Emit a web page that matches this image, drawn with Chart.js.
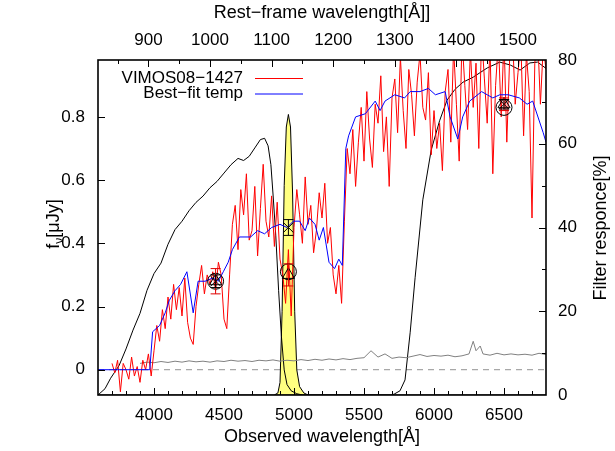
<!DOCTYPE html>
<html><head><meta charset="utf-8">
<script src="https://cdn.jsdelivr.net/npm/chart.js@4/dist/chart.umd.min.js"></script>
<style>html,body{margin:0;padding:0;background:#fff}#wrap{width:615px;height:451px;position:relative}</style>
</head><body><div id="wrap"><canvas id="c"></canvas></div>
<script>
const FONT = '"Liberation Sans", Arial, Helvetica, sans-serif';
const onePlusZ = 4.4;

const obsTicks = [4000,4500,5000,5500,6000,6500];
const restTicks = [900,1000,1100,1200,1300,1400,1500];
const fluxTicks = [0,0.2,0.4,0.6,0.8];
const respTicks = [0,20,40,60,80];

const specLabel = 'VIMOS08\u22121427';
const tempLabel = 'Best\u2212fit temp';

const redWave = [3700,3720,3740,3760,3780,3800,3820,3840,3860,3880,3900,3920,3940,3960,3980,
4000,4020,4040,4060,4080,4100,4120,4140,4160,4180,4200,4220,4240,4260,4280,4300,4320,4340,4360,4380,
4400,4420,4440,4460,4480,4500,4520,4540,4560,4580,4600,4620,4640,4660,4680,4700,4720,4740,4760,4780,
4800,4820,4840,4860,4880,4900,4920,4940,4960,4980,5000,5020,5040,5060,5080,5100,5120,5140,5160,5180,
5200,5220,5240,5260,5280,5300,5320,5340,5360,5380,5400,5420,5440,5460,5480,5500,5520,5540,5560,5580,
5600,5620,5640,5660,5680,5700,5720,5740,5760,5780,5800,5820,5840,5860,5880,5900,5920,5940,5960,5980,
6000,6020,6040,6060,6080,6100,6120,6140,6160,6180,6200,6220,6240,6260,6280,6300,6320,6340,6360,6380,
6400,6420,6440,6460,6480,6500,6520,6540,6560,6580,6600,6620,6640,6660,6680,6700,6720,6740,6760,6780,6800];
const redFlux = [0.02,-0.01,0.03,-0.07,0.02,0.00,-0.03,0.04,-0.02,0.01,-0.04,0.03,0.00,0.05,-0.02,
0.06,0.14,0.09,0.19,0.13,0.23,0.16,0.27,0.19,0.26,0.17,0.29,0.15,0.10,0.08,0.20,0.27,0.33,0.24,0.30,
0.27,0.31,0.25,0.34,0.30,0.16,0.13,0.30,0.46,0.52,0.38,0.57,0.49,0.62,0.41,0.44,0.58,0.36,0.51,0.65,
0.47,0.42,0.55,0.39,0.53,0.35,0.30,0.21,0.38,0.17,0.45,0.57,0.49,0.40,0.61,0.46,0.52,0.37,0.44,0.56,
0.48,0.59,0.40,0.45,0.30,0.24,0.33,0.21,0.47,0.70,0.62,0.76,0.58,0.72,0.83,0.66,0.88,0.73,0.64,0.84,
0.78,0.93,0.69,0.80,0.58,0.86,0.92,0.75,0.99,0.82,0.70,0.95,0.87,0.74,0.91,1.00,0.83,0.79,0.94,0.68,
0.82,0.70,0.78,0.63,0.88,0.95,0.72,1.02,0.84,0.66,1.05,0.90,0.76,1.01,0.83,0.97,0.70,1.06,0.92,0.78,
1.03,0.62,0.90,1.04,0.80,1.05,0.72,0.98,1.07,0.84,0.94,1.04,0.74,1.00,0.88,0.48,0.97,1.06,0.84,1.02,0.95];

const blueWave = [3600,3970,3990,4040,4080,4110,4150,4190,4235,4280,4315,4365,4420,4460,4495,4530,4560,4610,4690,4740,
4790,4840,4900,4950,4995,5040,5080,5110,5150,5180,5210,5250,5290,5320,5345,5370,5390,5440,5510,5580,
5615,5650,5720,5790,5830,5900,5960,6010,6080,6115,6170,6205,6255,6340,6380,6420,6470,6530,6610,6665,6705,6780,6800];
const blueFlux = [0,0,0.12,0.14,0.18,0.22,0.25,0.27,0.31,0.18,0.28,0.28,0.29,0.28,0.31,0.34,0.38,0.42,0.42,0.44,
0.43,0.45,0.46,0.45,0.47,0.47,0.44,0.48,0.46,0.41,0.45,0.34,0.32,0.35,0.33,0.70,0.74,0.80,0.81,0.85,
0.82,0.85,0.87,0.86,0.88,0.88,0.89,0.87,0.88,0.80,0.73,0.80,0.85,0.88,0.87,0.86,0.87,0.87,0.86,0.84,0.85,0.75,0.72];

const noiseWave = [3900,3950,4000,4050,4100,4150,4200,4250,4300,4350,4400,4450,4500,4550,4600,4650,4700,4750,4800,4850,
4900,4950,5000,5050,5100,5150,5200,5250,5300,5350,5400,5450,5500,5550,5600,5650,5700,5750,5800,5850,
5900,5950,6000,6050,6100,6150,6200,6250,6280,6300,6330,6350,6400,6450,6500,6550,6600,6650,6700,6750,6800];
const noiseFlux = [0.020,0.024,0.022,0.026,0.023,0.027,0.024,0.028,0.025,0.027,0.024,0.028,0.026,0.030,0.027,0.029,0.026,0.030,0.028,0.031,
0.027,0.030,0.028,0.032,0.029,0.033,0.030,0.034,0.031,0.035,0.032,0.036,0.038,0.060,0.040,0.050,0.036,0.040,0.038,0.043,
0.048,0.042,0.045,0.043,0.046,0.041,0.044,0.050,0.090,0.060,0.075,0.050,0.046,0.052,0.047,0.050,0.047,0.049,0.046,0.052,0.048];

const filtAWave = [3600,3650,3690,3750,3800,3850,3900,3950,4000,4050,4100,4150,4200,4250,4300,4350,4400,4450,4500,4550,
4600,4640,4680,4720,4760,4790,4815,4835,4850,4870,4890,4910,4930,4950,4980,5020,5060,6800];
const filtAResp = [0,1.5,4,7,11,15.5,19.5,25,29,31.5,36,39.5,41.5,44,46,47.5,49.5,51,53,55,
56.5,56,57,59,61,61.3,59.5,55,48,38,25,14,6,2.5,1,0.3,0,0];

const filtBWave = [4860,4885,4900,4915,4930,4945,4960,4975,4990,5005,5020,5040,5070,5100];
const filtBResp = [0,0.5,3,20,50,64,67,64,48,20,6,2,0.5,0];

const filtCWave = [3600,5700,5720,5757,5793,5830,5865,5920,5980,6040,6093,6150,6207,6280,6380,6470,6545,6615,6685,6740,6800];
const filtCResp = [0,0,0.3,1,3.6,15,28,46.6,58.5,65.5,70.4,73,74.7,75.9,78.1,79.5,78.8,77.6,79.3,79.5,78];

const photWave = [4440,4960,6500];
const photCircle = [0.28,0.31,0.83];
const photTriangle = [0.28,0.30,0.84];
const photTriangleErr = [0.04,0.035,0.02];
const photCross = [0.28,0.45,0.84];
const photCrossErr = [0.02,0.025,0.015];

const pts = (xs, ys) => xs.map((x,i)=>({x, y: ys[i]}));

const tickFont = {family: FONT, size: 17};
const titleFont = {family: FONT, size: 18};

function minorRange(a, b, step){ const r=[]; for(let v=a; v<=b+1e-9; v+=step) r.push(v); return r; }

const deco = {
  id: 'deco',
  beforeDatasetsDraw(chart){
    const {ctx, chartArea:a, scales} = chart;
    const py = scales.y.getPixelForValue(0);
    ctx.save();
    ctx.strokeStyle = '#a8a8a8'; ctx.lineWidth = 1.3; ctx.setLineDash([6,5]);
    ctx.beginPath(); ctx.moveTo(a.left, py); ctx.lineTo(a.right, py); ctx.stroke();
    ctx.restore();
  },
  afterDatasetsDraw(chart){
    const {ctx, chartArea:a, scales} = chart;
    const xs = scales.x, ys = scales.y, x2 = scales.x2, y2 = scales.y2;
    ctx.save();
    ctx.lineWidth = 1;
    const bar = (px, lo, hi, col) => {
      ctx.strokeStyle = col; ctx.beginPath();
      ctx.moveTo(px, lo); ctx.lineTo(px, hi);
      ctx.moveTo(px-5, lo); ctx.lineTo(px+5, lo);
      ctx.moveTo(px-5, hi); ctx.lineTo(px+5, hi);
      ctx.stroke();
    };
    photWave.forEach((w,i)=>{
      const px = xs.getPixelForValue(w);
      bar(px, ys.getPixelForValue(photTriangle[i]-photTriangleErr[i]), ys.getPixelForValue(photTriangle[i]+photTriangleErr[i]), '#e00000');
      bar(px, ys.getPixelForValue(photCross[i]-photCrossErr[i]), ys.getPixelForValue(photCross[i]+photCrossErr[i]), '#000');
    });
    ctx.strokeStyle = '#000'; ctx.lineWidth = 1.6;
    ctx.strokeRect(a.left, a.top, a.right-a.left, a.bottom-a.top);
    ctx.lineWidth = 1;
    ctx.beginPath();
    minorRange(3700, 6700, 100).forEach(v=>{
      const p = Math.round(xs.getPixelForValue(v))+0.5;
      const L = (v % 500 === 0) ? 7 : 4;
      ctx.moveTo(p, a.bottom); ctx.lineTo(p, a.bottom-L);
    });
    minorRange(850, 1500, 50).forEach(v=>{
      const p = Math.round(x2.getPixelForValue(v))+0.5;
      if (p < a.left || p > a.right) return;
      const L = (v % 100 === 0) ? 7 : 4;
      ctx.moveTo(p, a.top); ctx.lineTo(p, a.top+L);
    });
    fluxTicks.forEach(v=>{
      const p = Math.round(ys.getPixelForValue(v))+0.5;
      ctx.moveTo(a.left, p); ctx.lineTo(a.left+7, p);
    });
    minorRange(10, 70, 10).forEach(v=>{
      const p = Math.round(y2.getPixelForValue(v))+0.5;
      const L = (v % 20 === 0) ? 7 : 4;
      ctx.moveTo(a.right, p); ctx.lineTo(a.right-L, p);
    });
    ctx.stroke();
    ctx.font = '17px ' + FONT; ctx.fillStyle = '#000';
    ctx.textAlign = 'right'; ctx.textBaseline = 'middle';
    const ds = chart.data.datasets;
    const rows = [ds.find(d=>d.id==='spec'), ds.find(d=>d.id==='temp')];
    rows.forEach((d,i)=>{
      const yy = 78 + i*15.5;
      ctx.fillText(d.label, 243, yy);
      ctx.strokeStyle = d.borderColor; ctx.lineWidth = 1;
      ctx.beginPath(); ctx.moveTo(255, yy+0.5); ctx.lineTo(303, yy+0.5); ctx.stroke();
    });
    ctx.save();
    ctx.translate(59, 224); ctx.rotate(-Math.PI/2);
    ctx.textAlign = 'left'; ctx.textBaseline = 'alphabetic';
    const big = '18px ' + FONT, small = '12px ' + FONT;
    ctx.font = big; const w1 = ctx.measureText('f').width;
    ctx.font = small; const w2 = ctx.measureText('\u03bd').width;
    ctx.font = big; const w3 = ctx.measureText('[\u03bcJy]').width;
    let sx = -(w1+w2+w3)/2;
    ctx.font = big; ctx.fillText('f', sx, 0); sx += w1;
    ctx.font = small; ctx.fillText('\u03bd', sx, 4); sx += w2;
    ctx.font = big; ctx.fillText('[\u03bcJy]', sx, 0);
    ctx.restore();
    ctx.save();
    ctx.translate(606, 228); ctx.rotate(-Math.PI/2);
    ctx.font = big; ctx.textAlign = 'center'; ctx.textBaseline = 'alphabetic';
    ctx.fillText('Filter responce[%]', 0, 0);
    ctx.restore();
    ctx.restore();
  }
};

const lineDs = (id, label, xs, ys, color, axis, order, extra) => Object.assign({
  id, label, data: pts(xs, ys), showLine: true, borderColor: color, borderWidth: 1,
  pointRadius: 0, pointHoverRadius: 0, fill: false, yAxisID: axis, xAxisID: 'x', order, tension: 0
}, extra || {});

const markerDs = (label, ys, style, radius, order) => ({
  label, data: pts(photWave, ys), showLine: false, pointStyle: style, pointRadius: radius,
  pointBorderColor: '#000', pointBackgroundColor: 'rgba(0,0,0,0)', pointBorderWidth: 1,
  borderColor: '#000', yAxisID: 'y', xAxisID: 'x', order
});

new Chart(document.getElementById('c'), {
  type: 'scatter',
  data: {
    datasets: [
      lineDs('filtB', 'filter narrow', filtBWave, filtBResp, '#000', 'y2', 10, {fill: 'origin', backgroundColor: 'rgba(255,255,128,1)'}),
      lineDs('filtA', 'filter broad', filtAWave, filtAResp, '#000', 'y2', 9),
      lineDs('filtC', 'filter red', filtCWave, filtCResp, '#000', 'y2', 9),
      lineDs('noise', 'noise', noiseWave, noiseFlux, '#808080', 'y', 8),
      lineDs('spec', specLabel, redWave, redFlux, '#ff0000', 'y', 5),
      lineDs('temp', tempLabel, blueWave, blueFlux, '#0000ff', 'y', 4),
      markerDs('circle', photCircle, 'circle', 8, 1),
      markerDs('triangle', photTriangle, 'triangle', 7, 1),
      markerDs('cross', photCross, 'crossRot', 7, 1)
    ]
  },
  options: {
    responsive: true, maintainAspectRatio: false, animation: false,
    layout: {padding: 0},
    plugins: {legend: {display: false}, tooltip: {enabled: false}, title: {display: false}},
    scales: {
      x: {
        type: 'linear', position: 'bottom', min: 3600, max: 6800,
        afterBuildTicks: s => { s.ticks = obsTicks.map(v=>({value: v})); },
        afterFit: s => { s.height = 56; },
        grid: {display: false, drawTicks: false}, border: {display: false},
        ticks: {padding: 10, color: '#000', font: tickFont, maxRotation: 0, autoSkip: false, callback: v => String(v)},
        title: {display: true, text: 'Observed wavelength[\u00c5]', color: '#000', font: titleFont, padding: {top: 0, bottom: 3}}
      },
      x2: {
        type: 'linear', position: 'top', min: 3600/onePlusZ, max: 6800/onePlusZ,
        afterBuildTicks: s => { s.ticks = restTicks.map(v=>({value: v})); },
        afterFit: s => { s.height = 60; },
        grid: {display: false, drawTicks: false}, border: {display: false},
        ticks: {padding: 9, color: '#000', font: tickFont, maxRotation: 0, autoSkip: false, callback: v => String(v)},
        title: {display: true, text: 'Rest\u2212frame wavelength[\u00c5]]', color: '#000', font: titleFont, padding: {top: 2, bottom: 0}}
      },
      y: {
        type: 'linear', position: 'left', min: -0.08, max: 0.98,
        afterBuildTicks: s => { s.ticks = fluxTicks.map(v=>({value: v})); },
        afterFit: s => { s.width = 98; },
        grid: {display: false, drawTicks: false}, border: {display: false},
        ticks: {padding: 13, color: '#000', font: tickFont, autoSkip: false, callback: v => String(Math.round(v*10)/10)}
      },
      y2: {
        type: 'linear', position: 'right', min: 0, max: 80,
        afterBuildTicks: s => { s.ticks = respTicks.map(v=>({value: v})); },
        afterFit: s => { s.width = 69; },
        grid: {display: false, drawTicks: false}, border: {display: false},
        ticks: {padding: 12, color: '#000', font: tickFont, autoSkip: false, callback: v => String(v)}
      }
    }
  },
  plugins: [deco]
});
</script>
</body></html>
